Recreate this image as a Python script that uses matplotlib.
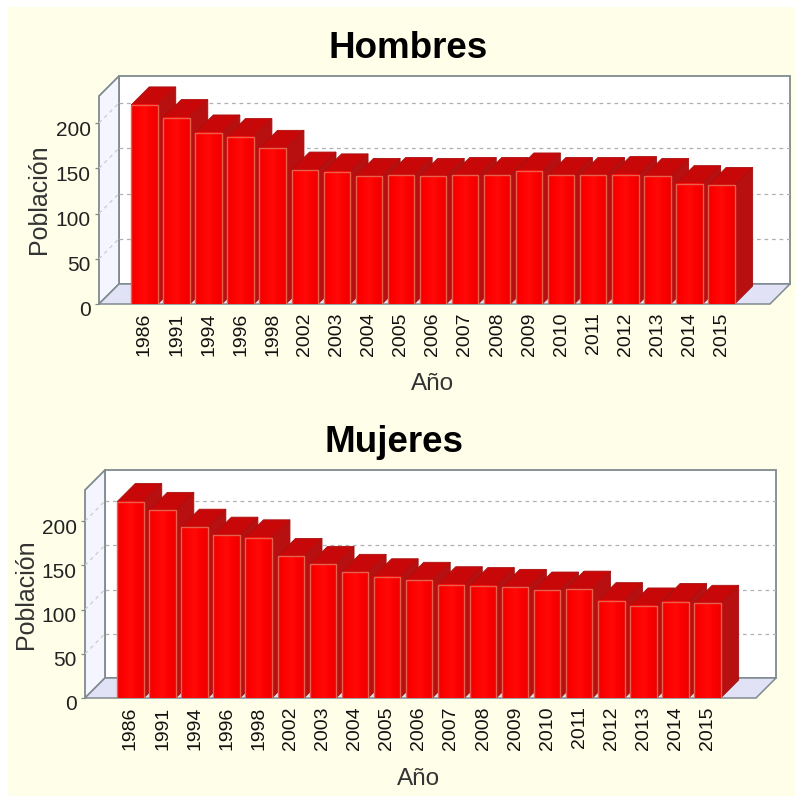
import numpy as np
from matplotlib import pyplot as plt
from matplotlib.patches import Polygon
from matplotlib.colors import LinearSegmentedColormap
from matplotlib.transforms import ScaledTranslation

years = ["1986", "1991", "1994", "1996", "1998", "2002", "2003", "2004", "2005", "2006",
         "2007", "2008", "2009", "2010", "2011", "2012", "2013", "2014", "2015"]
hombres = [220, 206, 189, 185, 172, 148, 146, 141, 142, 141,
           142, 142, 147, 142, 142, 143, 141, 133, 131]
mujeres = [222, 212, 193, 184, 181, 160, 151, 142, 137, 133,
           128, 127, 125, 122, 123, 110, 104, 109, 107]
y_ticks = [0, 50, 100, 150, 200]

W, H = 795, 796
BG = "#ffffe9"
plt.rcParams["font.family"] = ["Liberation Sans", "DejaVu Sans"]

bar_cmap = LinearSegmentedColormap.from_list("bar", ["#ee0000", "#ff0000", "#ff0a06", "#fa0000", "#ec0000"])


def panel(fig, title, values, left, top, scale, title_xy, ylabel_xy, xlabel_xy):
    # left/top = pixel corner of the front face, scale = pixels per unit of population
    right = left + 691
    bottom = top + 228
    ax = fig.add_axes([left / W, 1 - bottom / H, (right - left) / W, (bottom - top) / H])
    pitch = 32.05
    bar_w = 26.5 / pitch
    x0 = 45.5 / pitch
    ax.patch.set_visible(False)
    for s in ax.spines.values():
        s.set_visible(False)

    wall_dx = 20 / pitch
    wall_dy = 20 / scale
    xa = -x0
    xb = (right - left) / pitch - x0 - wall_dx
    ymax = (bottom - top) / scale
    ytop = ymax - wall_dy
    edge = "#7f8a90"

    # back wall, left wall and floor
    ax.add_patch(Polygon([(xa + wall_dx, wall_dy), (xb + wall_dx, wall_dy), (xb + wall_dx, ymax), (xa + wall_dx, ymax)],
                         fc="white", ec=edge, lw=1.3, zorder=1, clip_on=False))
    ax.add_patch(Polygon([(xa, 0), (xa + wall_dx, wall_dy), (xa + wall_dx, ymax), (xa, ytop)],
                         fc="#f5f5ff", ec=edge, lw=1.3, zorder=1, clip_on=False))
    ax.add_patch(Polygon([(xa, 0), (xb, 0), (xb + wall_dx, wall_dy), (xa + wall_dx, wall_dy)],
                         fc="#e2e2f6", ec=edge, lw=1.1, zorder=1, clip_on=False))

    # dashed grid on both walls
    for t in y_ticks[1:]:
        ax.plot([xa + wall_dx, xb + wall_dx], [t + wall_dy, t + wall_dy], color="#b0b0b0", lw=0.9, ls=(0, (3, 3)), zorder=2)
        ax.plot([xa, xa + wall_dx], [t, t + wall_dy], color="#cccccc", lw=0.9, ls=(0, (3, 3)), zorder=2)

    # bars drawn left to right: side, top, then shaded front face
    dx = 18 / pitch
    dy = 18 / scale
    grad = np.linspace(0, 1, 64).reshape(1, -1)
    for i, v in enumerate(values):
        xl = i - bar_w / 2
        xr = i + bar_w / 2
        z = 3 + i * 0.01
        ax.add_patch(Polygon([(xr, 0), (xr + dx, dy), (xr + dx, v + dy), (xr, v)],
                             fc="#b81010", ec="#a01010", lw=0.6, zorder=z))
        ax.add_patch(Polygon([(xl, v), (xr, v), (xr + dx, v + dy), (xl + dx, v + dy)],
                             fc="#c80808", ec="#a81010", lw=0.6, zorder=z))
        ax.imshow(grad, cmap=bar_cmap, extent=(xl, xr, 0, v), aspect="auto", zorder=z + 0.002)
        ax.plot([xl, xl, xr, xr], [0, v, v, 0], color="#e8604c", lw=1.0, zorder=z + 0.003)
    ax.set_xlim(-x0, (right - left) / pitch - x0)
    ax.set_ylim(0, ymax)

    ax.set_xticks(range(len(years)))
    ax.set_xticklabels(years, rotation=90, fontsize=14, color="#111111")
    ax.tick_params(axis="x", length=0, pad=6)
    ax.set_yticks(y_ticks)
    ax.set_yticklabels([str(t) for t in y_ticks], fontsize=15, color="#222222")
    ax.tick_params(axis="y", length=3, width=0.9, color=edge, pad=3)
    # y labels sit a little under their ticks
    shift = ScaledTranslation(0, -5 / 100, fig.dpi_scale_trans)
    for lab in ax.get_yticklabels():
        lab.set_transform(lab.get_transform() + shift)

    fig.text(title_xy[0] / W, 1 - title_xy[1] / H, title, fontsize=26.5, fontweight="bold",
             ha="center", va="center", color="black")
    fig.text(ylabel_xy[0] / W, 1 - ylabel_xy[1] / H, "Población", fontsize=18, rotation=90,
             ha="center", va="center", color="#333333")
    fig.text(xlabel_xy[0] / W, 1 - xlabel_xy[1] / H, "Año", fontsize=17.5,
             ha="center", va="center", color="#333333")


fig = plt.figure(figsize=(W / 100, H / 100), dpi=100, facecolor="white")
bg = fig.add_axes([8 / W, 0, (W - 8) / W, (H - 7) / H])
bg.set_facecolor(BG)
bg.set_xticks([])
bg.set_yticks([])
for s in bg.spines.values():
    s.set_visible(False)

panel(fig, "Hombres", hombres, 99, 76, 0.905, (408, 48), (39, 199), (433, 384))
panel(fig, "Mujeres", mujeres, 85, 470, 0.885, (394, 442), (26, 594), (419, 779))

plt.savefig("out.png", dpi=100)
